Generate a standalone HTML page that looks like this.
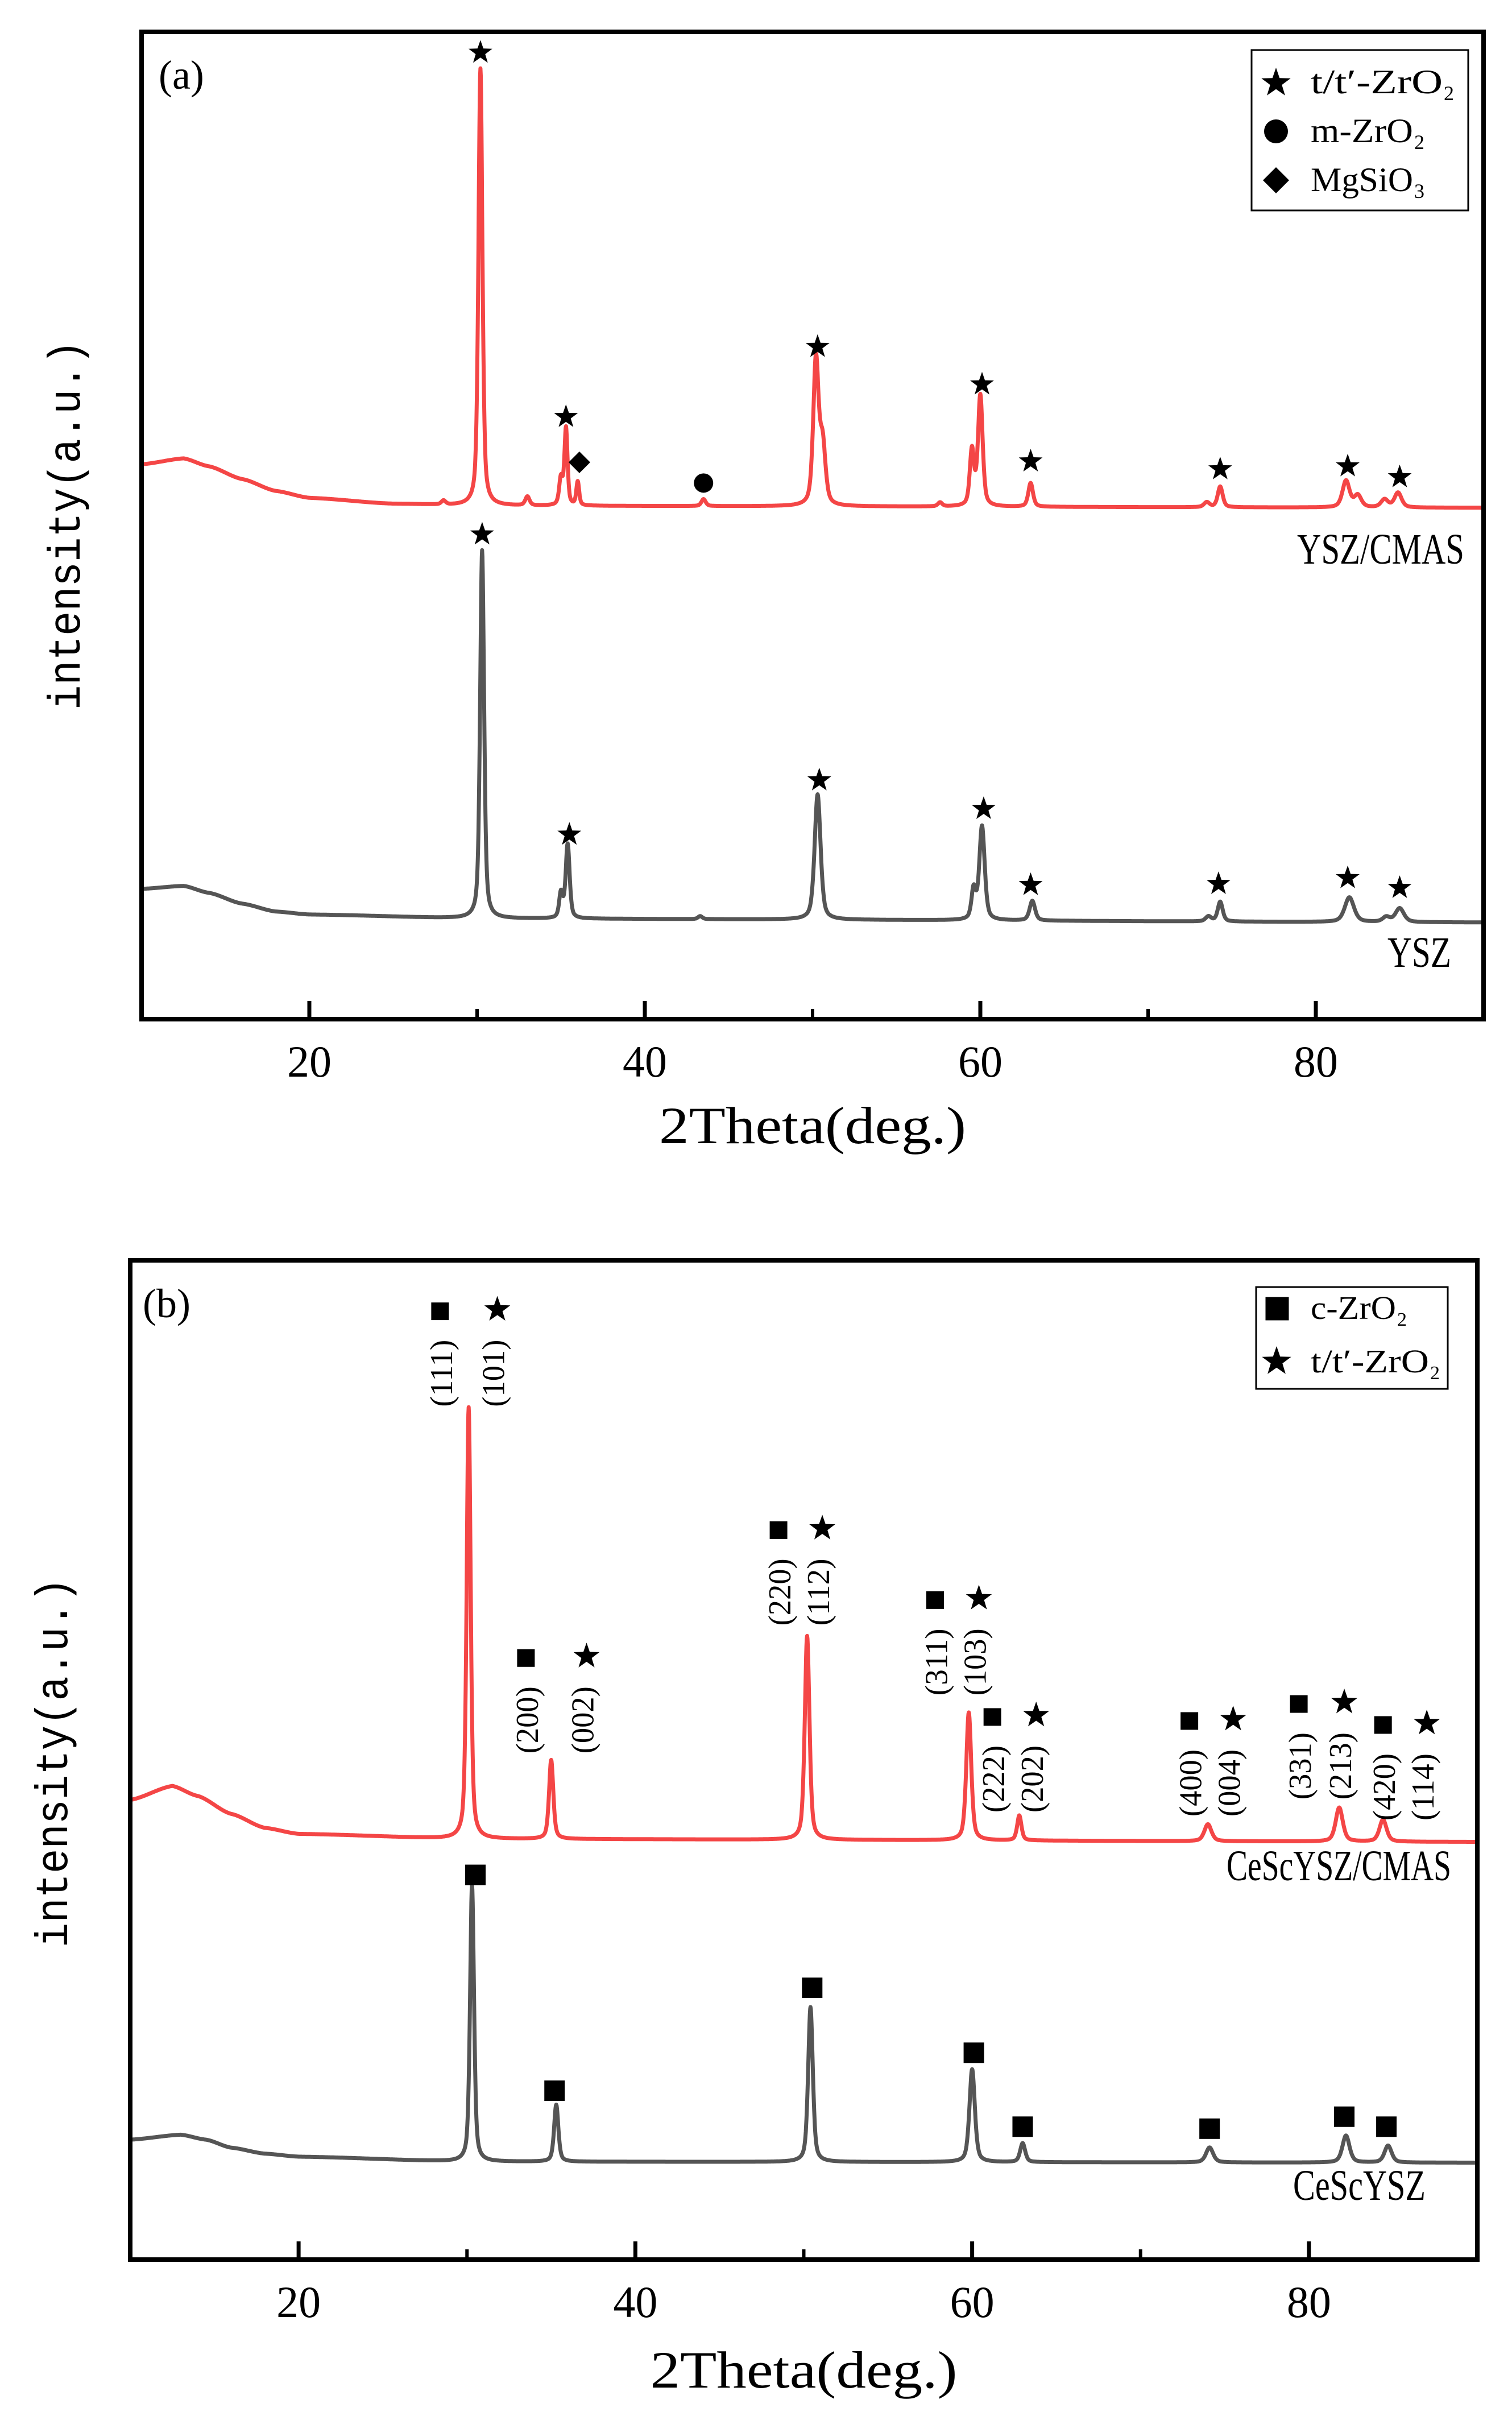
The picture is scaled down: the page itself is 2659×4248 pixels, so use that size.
<!DOCTYPE html>
<html><head><meta charset="utf-8"><style>
html,body{margin:0;padding:0;background:#fff;}
svg{display:block;}
text{font-family:"Liberation Serif",serif;fill:#000;}
</style></head><body>
<svg id="chart" width="2659" height="4248" viewBox="0 0 2659 4248" xmlns="http://www.w3.org/2000/svg">
<g id="pa"></g>
<g id="pb"></g>
</svg>
<script>
// ---- data: panel a ----
const xTicks = [20, 40, 60, 80];
const xMinor = [30, 50, 70];
// background anchors [2theta, intensity]
const aRedBgX = [10, 12.5, 14, 16, 18, 20, 25, 30, 90];
const aRedBgI = [562, 568, 560, 547, 535, 528, 522, 520, 518];
const aRedPeakX = [28, 30.2, 33.0, 35.0, 35.3, 36.0, 43.5, 50.2, 50.6, 57.6, 59.5, 60.0, 63.0, 73.5, 74.3, 81.8, 82.5, 84.1, 84.9];
const aRedPeakH = [4, 443, 9, 27, 78, 24, 7, 147, 60, 4, 56, 112, 24, 5, 21, 27, 12, 8, 15];
const aRedPeakW = [0.3, 0.28, 0.3, 0.25, 0.22, 0.2, 0.3, 0.38, 0.4, 0.3, 0.3, 0.33, 0.33, 0.4, 0.35, 0.5, 0.5, 0.5, 0.5];
const aGrayBgX = [10, 12.5, 14, 16, 18, 20, 30, 90];
const aGrayBgI = [132, 135, 128, 117, 109, 106, 102, 98];
const aGrayPeakX = [30.3, 35.0, 35.4, 43.3, 50.3, 59.6, 60.1, 63.1, 73.6, 74.3, 82.0, 84.2, 85.0];
const aGrayPeakH = [373, 25, 75, 3, 127, 30, 95, 20, 5, 20, 25, 5, 14];
const aGrayPeakW = [0.28, 0.25, 0.28, 0.3, 0.42, 0.3, 0.38, 0.38, 0.4, 0.35, 0.65, 0.5, 0.6];
const aRedStarX = [30.2, 35.3, 50.3, 60.1, 63.0, 74.3, 81.9, 85.0];
const aRedStarI = [979, 610, 681, 643, 565, 557, 560, 549];
const aDiamondX = [36.1], aDiamondI = [564];
const aCircleX = [43.5], aCircleI = [543];
const aGrayStarX = [30.3, 35.5, 50.4, 60.2, 63.0, 74.2, 81.9, 85.0];
const aGrayStarI = [491, 187, 242, 213, 136, 137, 143, 133];
// ---- data: panel b ----
const bRedBgX = [10, 12.5, 14, 16, 18, 20, 30, 90];
const bRedBgI = [460, 474, 464, 446, 432, 426, 421, 418];
const bRedPeakX = [30.1, 35.0, 50.2, 59.8, 62.8, 74.0, 81.8, 84.4];
const bRedPeakH = [432, 79, 204, 128, 25, 17, 34, 22];
const bRedPeakW = [0.28, 0.3, 0.33, 0.35, 0.3, 0.5, 0.5, 0.5];
const bGrayBgX = [10, 13, 14.5, 16, 18, 20, 30, 90];
const bGrayBgI = [120, 125, 120, 112, 106, 103, 98, 97];
const bGrayPeakX = [30.3, 35.3, 50.4, 60.0, 63.0, 74.1, 82.2, 84.7];
const bGrayPeakH = [277, 57, 155, 93, 19, 15, 27, 17];
const bGrayPeakW = [0.28, 0.3, 0.33, 0.38, 0.35, 0.5, 0.5, 0.5];
const bSqX = [28.4, 33.5, 48.5, 57.8, 61.2, 72.9, 79.4, 84.4];
const bStX = [31.8, 37.1, 51.1, 60.4, 63.8, 75.5, 82.1, 87.0];
const bMarkI = [949, 602, 730, 660, 543, 539, 556, 535];
const bHklC = ["(111)", "(200)", "(220)", "(311)", "(222)", "(400)", "(331)", "(420)"];
const bHklT = ["(101)", "(002)", "(112)", "(103)", "(202)", "(004)", "(213)", "(114)"];
const bGraySqX = [30.5, 35.2, 50.5, 60.1, 63.0, 74.1, 82.1, 84.6];
const bGraySqI = [385, 169, 272, 207, 133, 131, 143, 133];

const NS = "http://www.w3.org/2000/svg";
function mk(parent, tag, attrs, txt) {
  const e = document.createElementNS(NS, tag);
  for (const k in attrs) e.setAttribute(k, attrs[k]);
  if (txt !== undefined) e.textContent = txt;
  parent.appendChild(e);
  return e;
}
function interp(xs, ys, x) {
  if (x <= xs[0]) return ys[0];
  for (let i = 1; i < xs.length; i++) {
    if (x <= xs[i]) {
      const t = (x - xs[i-1]) / (xs[i] - xs[i-1]);
      const s = t * t * (3 - 2 * t);
      return ys[i-1] + (ys[i] - ys[i-1]) * (0.5 * t + 0.5 * s);
    }
  }
  return ys[ys.length-1];
}
function profile(x, px, ph, pw) {
  let s = 0;
  for (let i = 0; i < px.length; i++) {
    const d = (x - px[i]) / (pw[i] / 2);
    s += ph[i] * (0.5 * Math.exp(-0.693 * d * d) + 0.5 / (1 + d * d));
  }
  return s;
}
function star(g, cx, cy, r, name) {
  let pts = [];
  for (let i = 0; i < 10; i++) {
    const a = -Math.PI / 2 + i * Math.PI / 5;
    const rr = i % 2 ? r * 0.4 : r;
    pts.push((cx + rr * Math.cos(a)).toFixed(1) + "," + (cy + rr * Math.sin(a)).toFixed(1));
  }
  const e = mk(g, "polygon", {points: pts.join(" "), fill: "#000"});
  
  
  return e;
}
function square(g, cx, cy, s, name) {
  const e = mk(g, "rect", {x: cx - s/2, y: cy - s/2, width: s, height: s, fill: "#000"});
  
  
}

function panel(g, P) {
  const xs = x => P.L + (x - 10) * (P.R - P.L) / 80;
  const ys = I => P.B - I * (P.B - P.T) / 1000;
  P.xs = xs; P.ys = ys;
  P.series.forEach(s => {
    let d = "";
    for (let x = 10; x <= 90.0001; x += 0.02) {
      const I = interp(s.bgx, s.bgi, x) + profile(x, s.px, s.ph, s.pw);
      d += (d ? "L" : "M") + xs(x).toFixed(1) + "," + ys(I).toFixed(1);
    }
    const p = mk(g, "path", {d: d, fill: "none", stroke: s.color, "stroke-width": 7, "stroke-linejoin": "round"});
    
    
  });
  const f = mk(g, "rect", {x: P.L, y: P.T, width: P.R - P.L, height: P.B - P.T, fill: "none", stroke: "#000", "stroke-width": 8});
  
  
  xTicks.forEach(v => {
    const t = mk(g, "line", {x1: xs(v), x2: xs(v), y1: P.B, y2: P.B - 32, stroke: "#000", "stroke-width": 7});
    
    
    const l = mk(g, "text", {x: xs(v), y: P.tickY, "font-size": 78, "text-anchor": "middle"}, String(v));
    
    
  });
  xMinor.forEach(v => {
    const t = mk(g, "line", {x1: xs(v), x2: xs(v), y1: P.B, y2: P.B - 18, stroke: "#000", "stroke-width": 6});
    
    
  });
  const xt = mk(g, "text", {x: (P.L + P.R) / 2, y: P.titleY, "font-size": 92, "text-anchor": "middle", textLength: 540, lengthAdjust: "spacingAndGlyphs"}, "2Theta(deg.)");
  
  
  const yt = mk(g, "text", {x: 0, y: 0, "font-size": 80, "text-anchor": "middle", style: "font-family:'Liberation Mono',monospace", textLength: 650, lengthAdjust: "spacingAndGlyphs", transform: `translate(${P.yTitleX},${P.yTitleY}) rotate(-90)`}, "intensity(a.u.)");
  
  
  const pl = mk(g, "text", {x: P.L + P.lblDx, y: P.T + 100, "font-size": 72}, P.label);
  
  
  P.seriesLabels.forEach(sl => {
    const t = mk(g, "text", {x: sl.x, y: sl.y, "font-size": 76, "text-anchor": "end", textLength: sl.w, lengthAdjust: "spacingAndGlyphs"}, sl.t);
    
    
  });
}

// Panel A
const ga = document.getElementById('pa');
const PA = {L: 249, R: 2609, T: 56, B: 1792, tickY: 1893, titleY: 2010, yTitleX: 140, yTitleY: 923, lblDx: 30, label: "(a)",
  series: [
    {name: "ysz-cmas-curve", color: "#f44646", bgx: aRedBgX, bgi: aRedBgI, px: aRedPeakX, ph: aRedPeakH, pw: aRedPeakW},
    {name: "ysz-curve", color: "#555555", bgx: aGrayBgX, bgi: aGrayBgI, px: aGrayPeakX, ph: aGrayPeakH, pw: aGrayPeakW}],
  seriesLabels: [{t: "YSZ/CMAS", x: 2575, y: 991, w: 294}, {t: "YSZ", x: 2552, y: 1700, w: 112}]};
panel(ga, PA);
aRedStarX.forEach((x, i) => star(ga, PA.xs(x), PA.ys(aRedStarI[i]), 22, 'tzro2-marker'));
aGrayStarX.forEach((x, i) => star(ga, PA.xs(x), PA.ys(aGrayStarI[i]), 22, 'tzro2-marker'));
aDiamondX.forEach((x, i) => {
  const cx = PA.xs(x), cy = PA.ys(aDiamondI[i]);
  const e = mk(ga, "polygon", {points: `${cx},${cy-19} ${cx+19},${cy} ${cx},${cy+19} ${cx-19},${cy}`, fill: "#000"});
  
  
});
aCircleX.forEach((x, i) => {
  const e = mk(ga, "circle", {cx: PA.xs(x), cy: PA.ys(aCircleI[i]), r: 17, fill: "#000"});
  
  
});
const lga = mk(ga, "g", {});


mk(lga, "rect", {x: 2201, y: 88, width: 381, height: 282, fill: "#fff", stroke: "#000", "stroke-width": 3});
star(lga, 2244, 146, 27, 'legend-star-symbol');
const lc = mk(lga, "circle", {cx: 2244, cy: 231, r: 21, fill: "#000"});


const ld = mk(lga, "polygon", {points: "2244,294 2267,317 2244,340 2221,317", fill: "#000"});


[["t/t′-ZrO", 164, 232], ["m-ZrO", 250, 180], ["MgSiO", 336, 180]].forEach(r => {
  const t = mk(lga, "text", {x: 2305, y: r[1], "font-size": 60, textLength: r[2], lengthAdjust: "spacingAndGlyphs"}, r[0]);
  
  
  const s = mk(lga, "text", {x: 2305 + r[2] + 2, y: r[1] + 12, "font-size": 36}, r[0] === "MgSiO" ? "3" : "2");
  
  
});

// Panel B
const gb = document.getElementById('pb');
const PB = {L: 229, R: 2598, T: 2216, B: 3973, tickY: 4074, titleY: 4198, yTitleX: 118, yTitleY: 3099, lblDx: 22, label: "(b)",
  series: [
    {name: "ceScysz-cmas-curve", color: "#f44646", bgx: bRedBgX, bgi: bRedBgI, px: bRedPeakX, ph: bRedPeakH, pw: bRedPeakW},
    {name: "ceScysz-curve", color: "#555555", bgx: bGrayBgX, bgi: bGrayBgI, px: bGrayPeakX, ph: bGrayPeakH, pw: bGrayPeakW}],
  seriesLabels: [{t: "CeScYSZ/CMAS", x: 2552, y: 3306, w: 395}, {t: "CeScYSZ", x: 2507, y: 3868, w: 233}]};
panel(gb, PB);
bSqX.forEach((x, i) => {
  const cy = PB.ys(bMarkI[i]);
  square(gb, PB.xs(x), cy, 31, 'czro2-marker');
  star(gb, PB.xs(bStX[i]), cy - 3, 24, 'tzro2-marker');
  [[bHklC[i], x + 0.1], [bHklT[i], bStX[i] - 0.2]].forEach(h => {
    const cx = PB.xs(h[1]), top = cy + 50;
    const t = mk(gb, "text", {x: 0, y: 0, "font-size": 56, "text-anchor": "end", textLength: 118, lengthAdjust: "spacingAndGlyphs", transform: `translate(${cx + 18},${top}) rotate(-90)`}, h[0]);
    
    
  });
});
bGraySqX.forEach((x, i) => square(gb, PB.xs(x), PB.ys(bGraySqI[i]), 36, 'czro2-marker'));
const lgb = mk(gb, "g", {});


mk(lgb, "rect", {x: 2209, y: 2263, width: 337, height: 179, fill: "#fff", stroke: "#000", "stroke-width": 3});
square(lgb, 2246, 2301, 41, 'legend-square-symbol');
star(lgb, 2245, 2394, 27, 'legend-star-symbol');
[["c-ZrO", 2319, 150], ["t/t′-ZrO", 2413, 208]].forEach(r => {
  const t = mk(lgb, "text", {x: 2305, y: r[1], "font-size": 58, textLength: r[2], lengthAdjust: "spacingAndGlyphs"}, r[0]);
  
  
  const s = mk(lgb, "text", {x: 2305 + r[2] + 2, y: r[1] + 12, "font-size": 34}, "2");
  
  
});
</script>
</body></html>
